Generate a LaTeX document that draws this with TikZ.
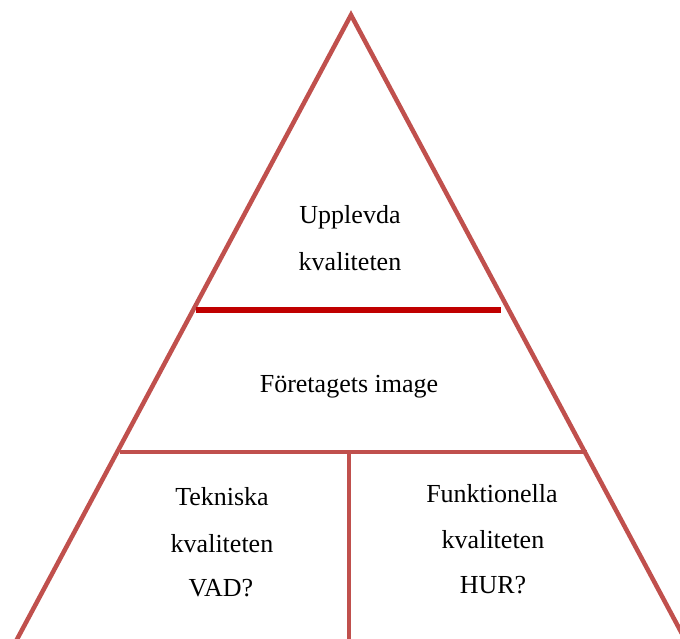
\documentclass[tikz,border=0pt]{standalone}
\usepackage{fontspec}
\setmainfont{Liberation Serif}
\definecolor{tri}{HTML}{C0504D}
\definecolor{topline}{HTML}{C00000}
\begin{document}
\begin{tikzpicture}[x=1pt,y=-1pt,
  txt/.style={anchor=base,inner sep=0pt,font=\fontsize{26}{30}\selectfont},
  edge/.style={draw=tri,line width=4.5pt}]
\useasboundingbox (0,0) rectangle (680,639);
\clip (0,0) rectangle (680,639);
\coordinate (apex) at (351,15);
\coordinate (bl) at (-23.5,715);
\coordinate (br) at (725.5,715);
\draw[edge,line join=miter] (bl) -- (apex) -- (br);
\coordinate (u1) at (196,310);
\coordinate (u2) at (501,310);
\draw[draw=topline,line width=5.5pt] (u1) -- (u2);
\coordinate (m1) at (120,452);
\coordinate (m2) at (587,452);
\draw[edge] (m1) -- (m2);
\coordinate (v1) at (349,450);
\coordinate (v2) at (349,645);
\draw[edge] (v1) -- (v2);
\node[txt] (t1) at (350,224) {Upplevda};
\node[txt] (t2) at (350,270) {kvaliteten};
\node[txt] (t3) at (349,392) {Företagets image};
\node[txt] (t4) at (222,505) {Tekniska};
\node[txt] (t5) at (222,552) {kvaliteten};
\node[txt] (t6) at (221,596) {VAD?};
\node[txt] (t7) at (492,502) {Funktionella};
\node[txt] (t8) at (493,548) {kvaliteten};
\node[txt] (t9) at (493,593) {HUR?};
\end{tikzpicture}
\end{document}
